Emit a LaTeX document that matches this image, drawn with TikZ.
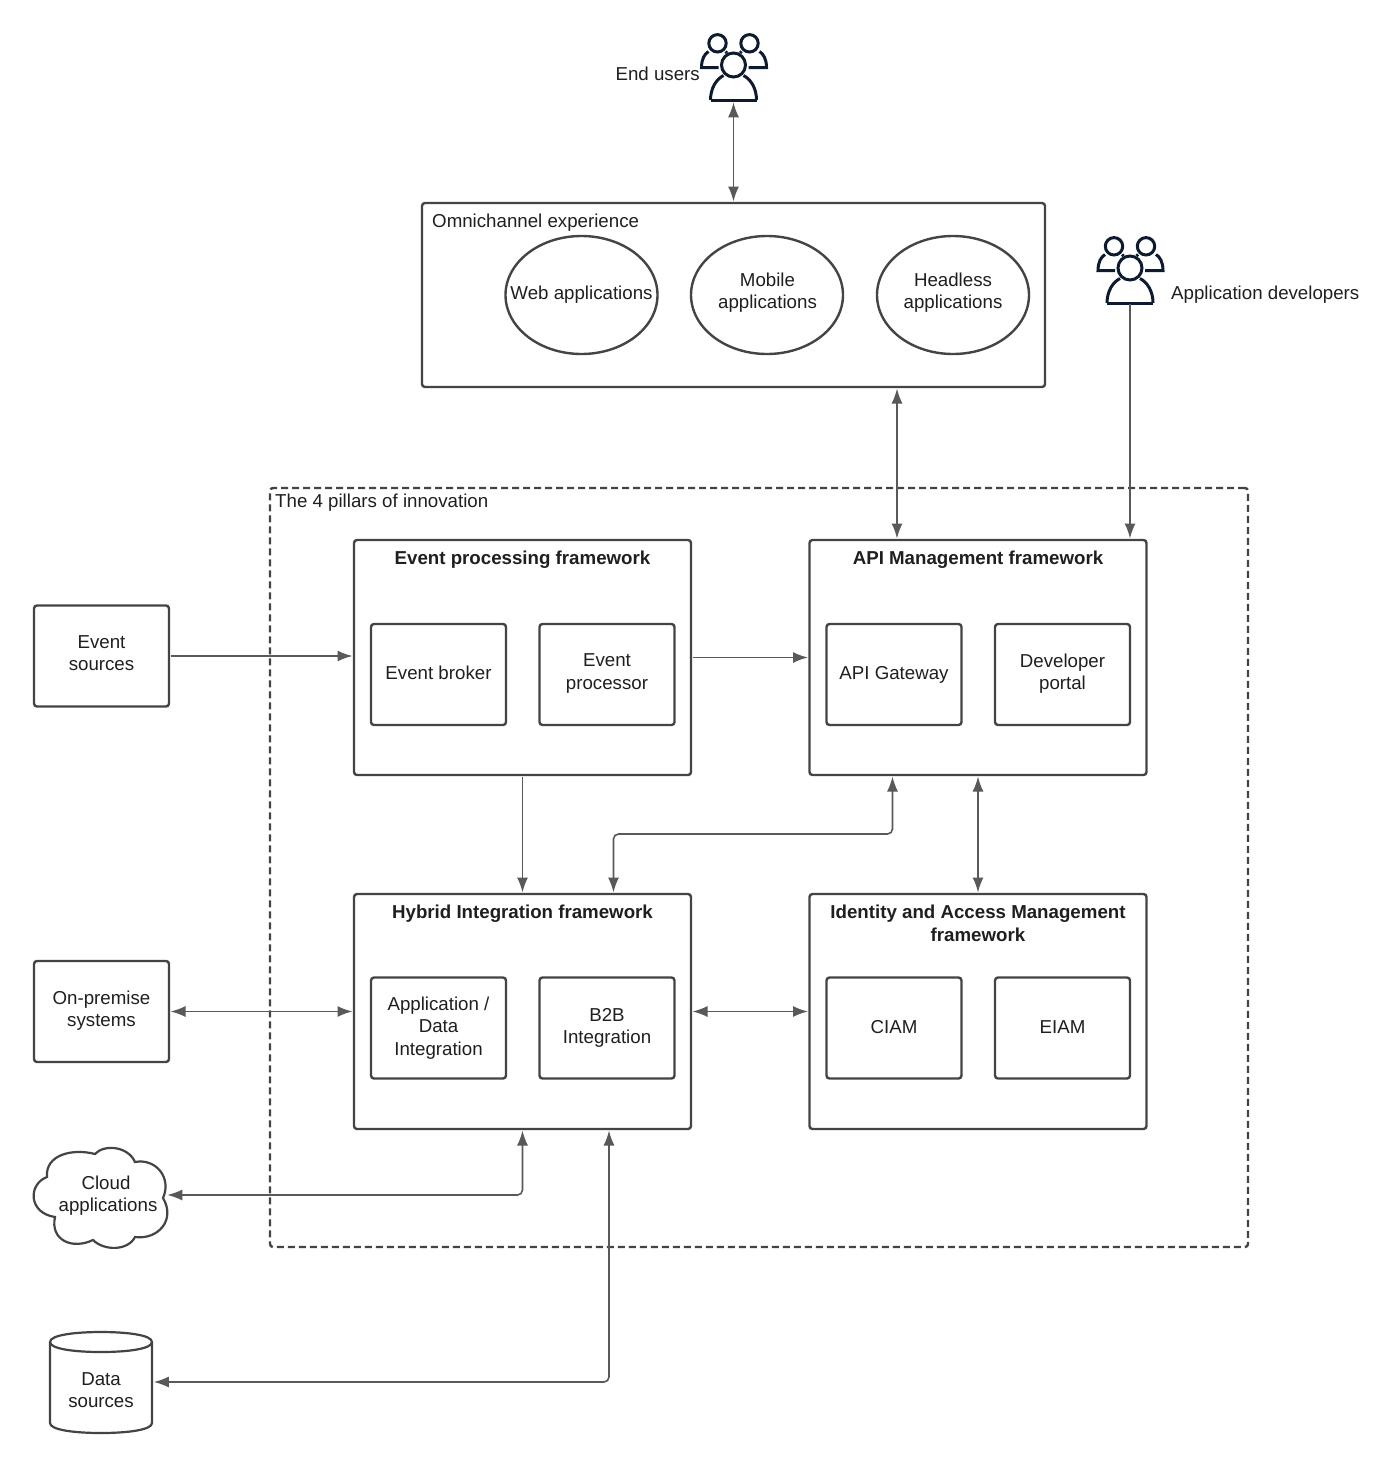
\documentclass[tikz,border=0pt]{standalone}
\usepackage{fontspec}
\setmainfont{Liberation Sans}
\usetikzlibrary{arrows.meta,calc,shapes.geometric}
\definecolor{boxc}{HTML}{444444}
\definecolor{arrc}{HTML}{595959}
\definecolor{txtc}{HTML}{1F1F1F}
\definecolor{iconc}{HTML}{0E1A30}
\tikzset{
  every node/.style={text=txtc,font=\fontsize{18.7}{22.6}\selectfont,align=center,inner sep=0pt},
  box/.style={draw=boxc,line width=2.4pt,rounded corners=3pt,fill=white},
  framebox/.style={box,minimum width=337pt,minimum height=235pt},
  innerbox/.style={box,minimum width=135pt,minimum height=101pt},
  extbox/.style={box,minimum width=135pt,minimum height=101pt},
  oval/.style={draw=boxc,line width=2.4pt,ellipse,minimum width=152pt,minimum height=118pt},
  title/.style={font=\fontsize{18.7}{22.6}\selectfont\bfseries},
  conn/.style={draw=arrc,line width=1.6pt,rounded corners=5pt,-{Latex[length=15pt,width=11pt]},shorten >=0.3pt,shorten <=0.3pt},
  biconn/.style={conn,{Latex[length=15pt,width=11pt]}-{Latex[length=15pt,width=11pt]}},
  usr/.style={draw=iconc,line width=3pt,line cap=butt},
}
\newcommand{\usericon}[2]{%
  \begin{scope}[shift={(#1,#2)}]
    \draw[usr] (0,0) circle (12pt);
    \draw[usr] (-23,35) .. controls (-23,23) and (-17,14) .. (-10,10.5);
    \draw[usr] (23,35) .. controls (23,23) and (17,14) .. (10,10.5);
    \draw[usr] (-23,35) -- (23,35);
    \draw[usr] (-16,-21.7) circle (8.7pt);
    \draw[usr] (16,-21.7) circle (8.7pt);
    \draw[usr] (-15,2.7) -- (-32,2.7) .. controls (-32,-6) and (-29,-11) .. (-25,-13.5);
    \draw[usr] (-8,-13.5) -- (-6.5,-12);
    \draw[usr] (15,2.7) -- (33,2.7) .. controls (33,-6) and (30,-11) .. (26,-13.5);
    \draw[usr] (8,-13.5) -- (6.5,-12);
  \end{scope}}
\begin{document}
\begin{tikzpicture}[x=1pt,y=-1pt]
\useasboundingbox[fill=white] (0,0) rectangle (1400,1467);

% container
\node[box,fill=none,dashed,dash pattern=on 7pt off 4pt,minimum width=978pt,minimum height=759pt] (pillars) at (759,867.5) {};
\node[anchor=west] (pillarst) at (275,503) {The 4 pillars of innovation};

% omnichannel
\node[box,minimum width=623pt,minimum height=184pt] (omni) at (733.5,295) {};
\node[anchor=west] (omnit) at (432,223) {Omnichannel experience};
\node[oval] (web) at (581.5,295) {};
\node (webt) at (581.5,295) {Web applications};
\node[oval] (mobile) at (767,295) {};
\node (mobilet) at (767.5,292.5) {Mobile\\applications};
\node[oval] (headless) at (953,295) {};
\node (headlesst) at (953,292.5) {Headless\\applications};

% users
\usericon{733.5}{65}
\coordinate (euicon) at (733.5,102);
\node[anchor=east] (eut) at (700,74) {End users};
\usericon{1130}{268}
\coordinate (devicon) at (1130,304);
\node[anchor=west] (devt) at (1171,295) {Application developers};

% frameworks
\node[framebox] (event) at (522.5,657.5) {};
\node[title] (eventt) at (522.5,560) {Event processing framework};
\node[innerbox] (broker) at (438.5,674.5) {};
\node (brokert) at (438.5,672.5) {Event broker};
\node[innerbox] (processor) at (607,674.5) {};
\node (processort) at (607,673.5) {Event\\processor};

\node[framebox] (api) at (978,657.5) {};
\node[title] (apit) at (978,560) {API Management framework};
\node[innerbox] (gateway) at (894,674.5) {API Gateway};
\node[innerbox] (portal) at (1062.5,674.5) {};
\node (portalt) at (1062.5,673.5) {Developer\\portal};

\node[framebox] (hybrid) at (522.5,1011.5) {};
\node[title] (hybridt) at (522.5,914) {Hybrid Integration framework};
\node[innerbox] (appint) at (438.5,1028) {Application /\\Data\\Integration};
\node[innerbox] (b2b) at (607,1028) {B2B\\Integration};

\node[framebox] (iam) at (978,1011.5) {};
\node[title] (iamt) at (978,923.5) {Identity and Access Management\\framework};
\node[innerbox] (ciam) at (894,1028) {};
\node (ciamt) at (894,1027) {CIAM};
\node[innerbox] (eiam) at (1062.5,1028) {};
\node (eiamt) at (1062.5,1027) {EIAM};

% external
\node[extbox] (evsrc) at (101.5,656) {};
\node (evsrct) at (101.5,653) {Event\\sources};
\node[extbox] (onprem) at (101.5,1011.5) {};
\node (onpremt) at (101.5,1010.5) {On-premise\\systems};

% cloud
\draw[draw=boxc,line width=2.2pt,fill=white]
  (55,1217) .. controls (28,1213) and (28,1184) .. (47,1177)
  .. controls (45,1155) and (72,1148) .. (95,1154)
  .. controls (104,1144) and (128,1146) .. (135,1162)
  .. controls (156,1158) and (172,1178) .. (163,1198)
  .. controls (176,1220) and (158,1240) .. (135,1237)
  .. controls (128,1251) and (104,1251) .. (93,1240)
  .. controls (72,1250) and (50,1240) .. (55,1217) -- cycle;
\node (cloud) at (106,1195.5) {Cloud\\[0pt]\hspace{4pt}applications};
\coordinate (cloudedge) at (167,1195);

% cylinder
\draw[draw=boxc,line width=2.2pt,fill=white]
  (50,1342) .. controls (50,1335) and (75,1332) .. (101,1332)
  .. controls (127,1332) and (152,1335) .. (152,1342)
  -- (152,1423) .. controls (152,1430) and (127,1433) .. (101,1433)
  .. controls (75,1433) and (50,1430) .. (50,1423) -- cycle;
\draw[draw=boxc,line width=2.2pt]
  (50,1342) .. controls (50,1349) and (75,1352) .. (101,1352)
  .. controls (127,1352) and (152,1349) .. (152,1342);
\node (data) at (101,1390) {Data\\sources};
\coordinate (dataedge) at (153.5,1382);

% connectors
\coordinate (xomni) at (897,0);
\coordinate (xhy) at (613.5,0);
\coordinate (xgw) at (892.5,0);
\coordinate (xds) at (609,0);
\coordinate (ymid) at (0,834);
\draw[biconn] (euicon) -- (omni.north);
\draw[biconn] (omni.south -| xomni) -- (api.north -| xomni);
\draw[conn] (devicon) -- (api.north -| devicon);
\draw[conn] (evsrc.east) -- (event.west |- evsrc.east);
\draw[conn] (event.east) -- (api.west);
\draw[conn] (event.south) -- (hybrid.north);
\draw[biconn] (hybrid.north -| xhy) -- (xhy |- ymid) -- (xgw |- ymid) -- (api.south -| xgw);
\draw[biconn] (api.south) -- (iam.north);
\draw[biconn] (onprem.east) -- (hybrid.west);
\draw[biconn] (hybrid.east) -- (iam.west);
\draw[biconn] (cloudedge) -- (cloudedge -| hybrid.south) -- (hybrid.south);
\draw[biconn] (dataedge) -- (dataedge -| xds) -- (hybrid.south -| xds);
\end{tikzpicture}
\end{document}
